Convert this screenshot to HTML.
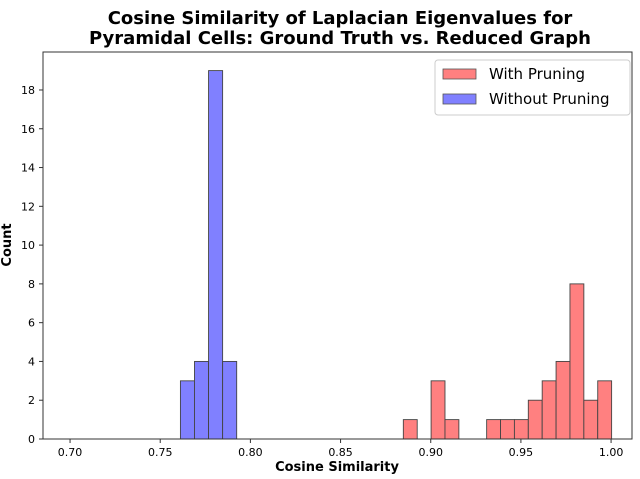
<!DOCTYPE html>
<html><head><meta charset="utf-8"><style>
body{margin:0;background:#fff;}
svg{display:block;font-family:"DejaVu Sans","Liberation Sans",sans-serif;}
</style></head><body>
<svg id="chart" width="640" height="479" viewBox="0 0 640 479" xmlns="http://www.w3.org/2000/svg">
<text x="340" y="24" text-anchor="middle" font-weight="bold" font-size="18">Cosine Similarity of Laplacian Eigenvalues for</text>
<text x="340" y="44" text-anchor="middle" font-weight="bold" font-size="18">Pyramidal Cells: Ground Truth vs. Reduced Graph</text>
<g id="bars"></g>
<rect x="43" y="52" width="589" height="387" fill="none" stroke="#333" stroke-width="1"/>
<g id="ticks"></g>
<text x="337" y="471" text-anchor="middle" font-weight="bold" font-size="13">Cosine Similarity</text>
<text transform="translate(11,245) rotate(-90)" text-anchor="middle" font-weight="bold" font-size="13">Count</text>
<g>
<rect x="435" y="60" width="195" height="55" rx="3" fill="#fff" stroke="#ccc"/>
<rect x="443" y="69" width="33" height="10" fill="#ff8080" stroke="#555" stroke-width="0.8"/>
<text x="489" y="79" font-size="15">With Pruning</text>
<rect x="443" y="94" width="33" height="10" fill="#8080ff" stroke="#555" stroke-width="0.8"/>
<text x="489" y="104" font-size="15">Without Pruning</text>
</g>
</svg>
<script>
const redStart = 0.8848;
const redWidth = 0.0077;
const redCounts = [1,0,3,1,0,0,1,1,1,2,3,4,8,2,3];
const blueStart = 0.7612;
const blueWidth = 0.0078;
const blueCounts = [3,4,19,4];
const xTicks = [0.70,0.75,0.80,0.85,0.90,0.95,1.00];
const xTickLabels = ["0.70","0.75","0.80","0.85","0.90","0.95","1.00"];
const yTicks = [0,2,4,6,8,10,12,14,16,18];

const X0=43,X1=632,Y0=439,Y1=52,xmin=0.6850,xmax=1.0116,ymax=(439-52)/19.39;
const sx=v=>X0+(v-xmin)/(xmax-xmin)*(X1-X0);
const sy=v=>Y0-v/ymax*(Y0-Y1);
const NS="http://www.w3.org/2000/svg";
const bars=document.getElementById('bars'),ticks=document.getElementById('ticks');
function drawSeries(start,w,counts,color,name){
  counts.forEach((c,i)=>{
    if(!c)return;
    const r=document.createElementNS(NS,'rect');
    
    
    const a=sx(start+i*w),b=sx(start+(i+1)*w);
    r.setAttribute('x',a);r.setAttribute('width',b-a);
    r.setAttribute('y',sy(c));r.setAttribute('height',Y0-sy(c));
    r.setAttribute('fill',color);r.setAttribute('stroke','#444');r.setAttribute('stroke-width','0.9');
    bars.appendChild(r);
  });
}
drawSeries(blueStart,blueWidth,blueCounts,'#8080ff','without-pruning');
drawSeries(redStart,redWidth,redCounts,'#ff8080','with-pruning');
xTicks.forEach((v,i)=>{
  const x=sx(v);
  const l=document.createElementNS(NS,'line');
  
  
  l.setAttribute('x1',x);l.setAttribute('x2',x);l.setAttribute('y1',Y0);l.setAttribute('y2',Y0+4);l.setAttribute('stroke','#333');
  ticks.appendChild(l);
  const t=document.createElementNS(NS,'text');
  
  
  t.setAttribute('x',x);t.setAttribute('y',Y0+17);t.setAttribute('text-anchor','middle');t.setAttribute('font-size','11');
  t.textContent=xTickLabels[i];ticks.appendChild(t);
});
yTicks.forEach(v=>{
  const y=sy(v);
  const l=document.createElementNS(NS,'line');
  
  
  l.setAttribute('x1',X0-4);l.setAttribute('x2',X0);l.setAttribute('y1',y);l.setAttribute('y2',y);l.setAttribute('stroke','#333');
  ticks.appendChild(l);
  const t=document.createElementNS(NS,'text');
  
  
  t.setAttribute('x',X0-8);t.setAttribute('y',y+4);t.setAttribute('text-anchor','end');t.setAttribute('font-size','11');
  t.textContent=v;ticks.appendChild(t);
});
</script>
</body></html>
